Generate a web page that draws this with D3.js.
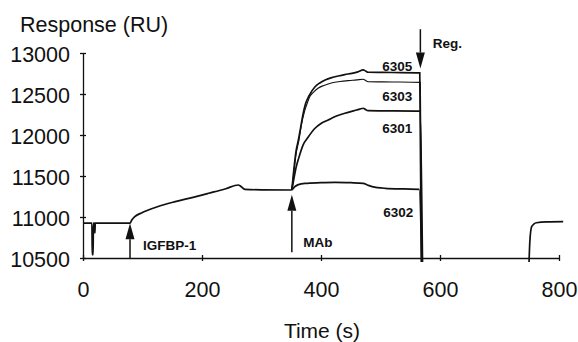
<!DOCTYPE html>
<html>
<head>
<meta charset="utf-8">
<script src="https://cdn.jsdelivr.net/npm/d3@7"></script>
<style>
  body { margin: 0; background: #fff; }
  svg { display: block; font-family: "Liberation Sans", Arial, sans-serif; }
</style>
</head>
<body>
<svg id="chart"></svg>
<script>
// Ticks
const xTicks = [0, 200, 400, 600, 800];
const yTicks = [10500, 11000, 11500, 12000, 12500, 13000];

// Sensorgram, [time (s), response (RU)]
const baseline = [[0, 10925], [15, 10925], [15.5, 10540], [17, 10540], [17.5, 10925], [19.5, 10925], [20, 10805], [20.6, 10925],
  [79, 10925], [82, 10963], [87, 11004], [99, 11052], [125, 11125], [155, 11187], [185, 11240], [211, 11289],
  [240, 11345], [261, 11390], [265, 11375], [272, 11338], [300, 11331], [351, 11329]];
const s6305 = [[351, 11329], [354, 11550], [358, 11800], [362, 11939], [366, 12100], [370, 12260], [374, 12380], [380, 12480],
  [390, 12589], [398, 12635], [407, 12671], [418, 12700], [429, 12720], [440, 12737], [452, 12752], [462, 12770],
  [471, 12793], [475, 12780], [479, 12765], [520, 12762], [566, 12758], [569, 10200]];
const s6303 = [[351, 11329], [354, 11520], [358, 11760], [363, 11939], [367, 12120], [372, 12280], [377, 12390], [381, 12467],
  [388, 12525], [395, 12570], [405, 12605], [419, 12638], [432, 12652], [446, 12663], [460, 12672], [471, 12680],
  [475, 12665], [479, 12650], [520, 12647], [567, 12642], [570, 10200]];
const s6301 = [[351, 11329], [354, 11450], [358, 11600], [363, 11730], [370, 11880], [378, 11970], [390, 12082], [400, 12140],
  [412, 12183], [425, 12228], [440, 12265], [455, 12295], [465, 12315], [471, 12326], [475, 12310], [479, 12298],
  [566, 12292], [571, 10200]];
const s6302 = [[351, 11329], [353, 11345], [356, 11370], [362, 11395], [373, 11410], [400, 11418], [424, 11423], [450, 11418],
  [471, 11410], [478, 11390], [486, 11370], [508, 11350], [540, 11342], [565, 11338], [570, 10200]];
const recovery = [[749, 10300], [751, 10700], [754, 10882], [758, 10915], [762, 10930], [780, 10940], [807, 10943]];

const seriesNames = ["6305", "6303", "6301", "6302"];
const seriesData = [s6305, s6303, s6301, s6302];
const seriesLabelAt = [[528, 12780], [528, 12415], [528, 12024], [530, 11000]];

// Injection markers: time, arrow start and tip (RU)
const markers = [
  { label: "IGFBP-1", t: 79, from: 10500, to: 10925, labelAt: [101, 10598] },
  { label: "MAb", t: 351, from: 10570, to: 11270, labelAt: [370, 10634] },
  { label: "Reg.", t: 567, from: 13290, to: 12810, labelAt: [588, 13061] }
];

const width = 578;
const height = 342;

const svg = d3.select("#chart")
    .attr("width", width)
    .attr("height", height);

const x = d3.scaleLinear().domain([0, 800]).range([83, 559]);
const y = d3.scaleLinear().domain([10500, 13000]).range([258, 53]);

svg.append("defs").append("clipPath").attr("id", "plot")
    .append("rect").attr("x", 80).attr("y", 0).attr("width", 498).attr("height", 262);

// Axes
const yAxis = svg.append("g")
    .attr("transform", `translate(${x(0)},0)`)
    .call(d3.axisLeft(y).tickValues(yTicks).tickFormat(d3.format("d")).tickSize(0).tickPadding(13));
yAxis.select(".domain").attr("stroke", "#111").attr("stroke-width", 1.3);
yAxis.selectAll("text").attr("font-size", "21.5px").attr("fill", "#111").attr("dy", "0.4em");
yAxis.selectAll(".tick").append("line").attr("x1", -3).attr("x2", 3).attr("stroke", "#111").attr("stroke-width", 1.3);

const xAxis = svg.append("g")
    .attr("transform", `translate(0,${y(10500)})`)
    .call(d3.axisBottom(x).tickValues(xTicks).tickSize(0).tickPadding(24));
xAxis.select(".domain").attr("stroke", "#111").attr("stroke-width", 1.3);
xAxis.selectAll("text").attr("font-size", "21.5px").attr("fill", "#111");
xAxis.selectAll(".tick").append("line").attr("y1", -3).attr("y2", 3).attr("stroke", "#111").attr("stroke-width", 1.3);

svg.append("text").attr("x", 20).attr("y", 32).attr("font-size", "21.5px").attr("fill", "#111").text("Response (RU)");
svg.append("text").attr("x", 322).attr("y", 338).attr("text-anchor", "middle").attr("font-size", "21px").attr("fill", "#111").text("Time (s)");

// Curves
const line = d3.line().x(d => x(d[0])).y(d => y(d[1])).curve(d3.curveMonotoneX);
const plot = svg.append("g").attr("clip-path", "url(#plot)");

[baseline, ...seriesData, recovery].forEach((data, i) => {
    plot.append("path")
        .datum(data)
        .attr("d", line)
        .attr("fill", "none")
        .attr("stroke", "#111")
        .attr("stroke-width", i === 2 ? 1.1 : 1.7);
});

seriesNames.forEach((name, i) => {
    svg.append("text")
        .attr("x", x(seriesLabelAt[i][0]))
        .attr("y", y(seriesLabelAt[i][1]))
        .attr("text-anchor", "middle")
        .attr("font-size", "13.5px")
        .attr("font-weight", "bold")
        .attr("fill", "#111")
        .text(name);
});

// Arrows
markers.forEach(m => {
    const x0 = x(m.t), yFrom = y(m.from), yTip = y(m.to);
    const dir = yTip < yFrom ? 1 : -1;
    const head = 16;
    svg.append("line")
        .attr("x1", x0).attr("x2", x0)
        .attr("y1", yFrom).attr("y2", yTip + dir * head)
        .attr("stroke", "#111").attr("stroke-width", 1.5);
    svg.append("path")
        .attr("d", `M${x0},${yTip} L${x0 - 4.5},${yTip + dir * head} L${x0 + 4.5},${yTip + dir * head} Z`)
        .attr("fill", "#111");
    svg.append("text")
        .attr("x", x(m.labelAt[0]))
        .attr("y", y(m.labelAt[1]))
        .attr("font-size", "13.5px")
        .attr("font-weight", "bold")
        .attr("fill", "#111")
        .text(m.label);
});
</script>
</body>
</html>
